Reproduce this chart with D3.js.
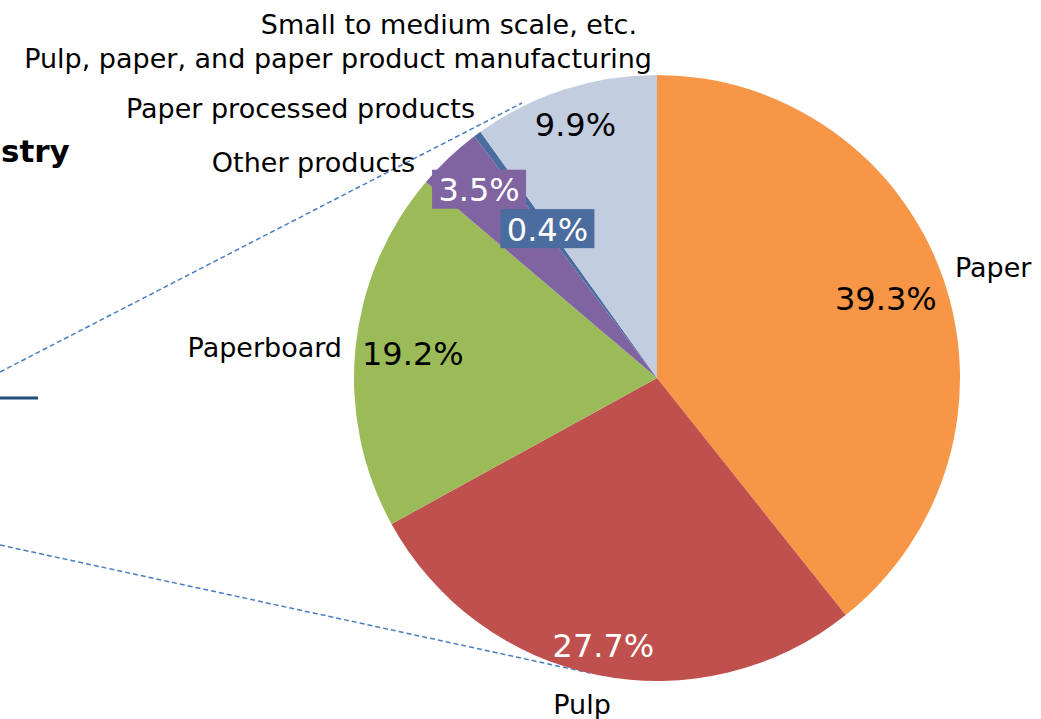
<!DOCTYPE html>
<html>
<head>
<meta charset="utf-8">
<script src="https://cdn.jsdelivr.net/npm/d3@7"></script>
<style>
  html, body { margin: 0; padding: 0; background: #ffffff; }
  svg { display: block; }
  text { font-family: "DejaVu Sans", Verdana, sans-serif; }
</style>
</head>
<body>
<div id="chart"></div>
<script>
// data, clockwise from 12 o'clock
const categories = ['Paper', 'Pulp', 'Paperboard', 'Other products', 'Paper processed products', 'Small to medium scale, etc.'];
const shares = [39.3, 27.7, 19.2, 3.5, 0.4, 9.9];
const colors = ['#F79646', '#C0504D', '#9BBB59', '#8064A2', '#4B6C9E', '#C3CDE0'];

const width = 1041, height = 719;
const cx = 657, cy = 378, R = 303;

// label layout (percent radius as fraction of R, category label placement)
const layout = {
	'Paper':                       { pr: 0.80, fill: '#000', box: false, lx: 955, ly: 277, anchor: 'start' },
	'Pulp':                        { pr: 0.90, fill: '#fff', box: false, lx: 582, ly: 714, anchor: 'middle' },
	'Paperboard':                  { pr: 0.81, fill: '#000', box: false, lx: 342, ly: 357, anchor: 'end' },
	'Other products':              { pr: 0.855, fill: '#fff', box: true, lx: 415, ly: 172, anchor: 'end' },
	'Paper processed products':    { pr: 0.61, fill: '#fff', box: true, lx: 475, ly: 118, anchor: 'end' },
	'Small to medium scale, etc.': { pr: 0.88, fill: '#000', box: false, lx: 637, ly: 34, anchor: 'end',
		sub: 'Pulp, paper, and paper product manufacturing', sx: 652, sy: 68 }
};

const svg = d3.select('#chart')
	.append('svg')
	.attr('width', width)
	.attr('height', height);

// left side remnant of the companion chart title
svg.append('text')
	.attr('x', 1).attr('y', 162)
	.style('font-size', '31px')
	.style('font-weight', 'bold')
	.attr('fill', '#000')
	.text('stry');

svg.append('line')
	.attr('x1', 0).attr('y1', 398).attr('x2', 38).attr('y2', 398)
	.attr('stroke', '#1F4E79').attr('stroke-width', 3);

// dashed connector lines (drawn under the pie)
const connectors = [[[0, 372], [522, 103]], [[0, 545], [590, 673]]];
svg.selectAll('line.conn')
	.data(connectors)
	.join('line')
	.attr('class', 'conn')
	.attr('x1', d => d[0][0]).attr('y1', d => d[0][1])
	.attr('x2', d => d[1][0]).attr('y2', d => d[1][1])
	.attr('stroke', '#4A7EC0')
	.attr('stroke-width', 1.5)
	.attr('stroke-dasharray', '5,3');

const g = svg.append('g').attr('transform', `translate(${cx},${cy})`);

const pie = d3.pie().sort(null).value(d => d[1]);
const data_ready = pie(d3.zip(categories, shares));
const color = d3.scaleOrdinal().domain(categories).range(colors);
const arc = d3.arc().innerRadius(0).outerRadius(R);

g.selectAll('path')
	.data(data_ready)
	.join('path')
	.attr('d', arc)
	.attr('fill', d => color(d.data[0]));

// percent labels
const pctSize = 32;
data_ready.forEach(d => {
	const L = layout[d.data[0]];
	const a = (d.startAngle + d.endAngle) / 2;
	const x = Math.sin(a) * R * L.pr;
	const y = -Math.cos(a) * R * L.pr;
	const label = d.data[1].toFixed(1) + '%';
	if (L.box) {
		g.append('rect')
			.attr('x', x - 47).attr('y', y - 20)
			.attr('width', 94).attr('height', 39)
			.attr('fill', color(d.data[0]));
	}
	g.append('text')
		.attr('x', x).attr('y', y)
		.attr('dy', '0.36em')
		.attr('text-anchor', 'middle')
		.style('font-size', pctSize + 'px')
		.attr('fill', L.fill)
		.text(label);
});

// category labels
const catSize = 27;
categories.forEach(c => {
	const L = layout[c];
	svg.append('text')
		.attr('x', L.lx).attr('y', L.ly)
		.attr('text-anchor', L.anchor)
		.style('font-size', catSize + 'px')
		.attr('fill', '#000')
		.text(c);
	if (L.sub) {
		svg.append('text')
			.attr('x', L.sx).attr('y', L.sy)
			.attr('text-anchor', L.anchor)
			.style('font-size', catSize + 'px')
			.attr('fill', '#000')
			.text(L.sub);
	}
});
</script>
</body>
</html>
